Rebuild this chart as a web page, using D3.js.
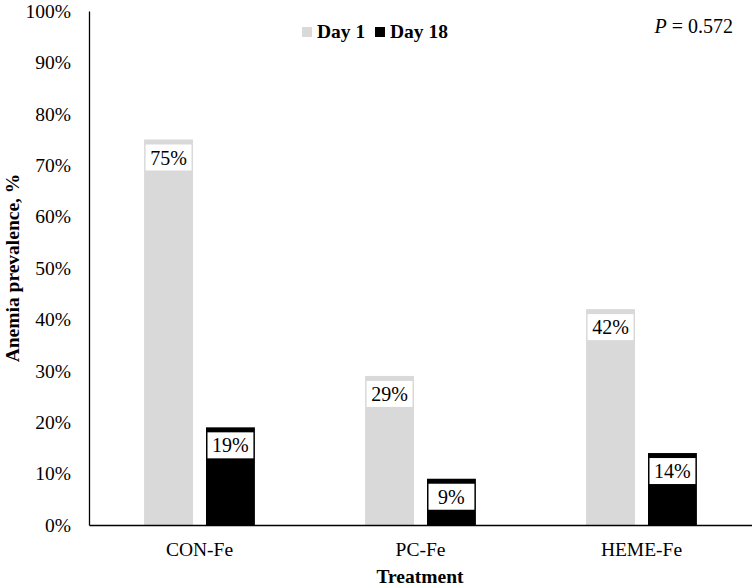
<!DOCTYPE html>
<html><head><meta charset="utf-8">
<script src="https://cdn.jsdelivr.net/npm/d3@7"></script>
<style>body{margin:0;background:#fff}svg{display:block}text{font-family:"Liberation Serif","Times New Roman",serif;fill:#000}</style>
</head><body><svg id="c" width="752" height="586"></svg>
<script>
const categories = ["CON-Fe", "PC-Fe", "HEME-Fe"];
const seriesNames = ["Day 1", "Day 18"];
const day1 = [75, 29, 42];
const day18 = [19, 9, 14];
const yTicks = [0,10,20,30,40,50,60,70,80,90,100];
const colors = ["#d9d9d9", "#000000"];

const svg = d3.select("#c");
const m = {l: 89, r: 752, t: 11, b: 525};
const x = d3.scaleBand().domain(categories).range([m.l, 752]);
const x1 = d3.scaleBand().domain(seriesNames).range([0, x.bandwidth()]).paddingInner(0.21).paddingOuter(0.89);
const y = d3.scaleLinear().domain([0, 100]).range([m.b, m.t]);

const data = categories.map((c, i) => ({c, vals: [day1[i], day18[i]]}));

// bars
const g = svg.append("g");
data.forEach(d => {
  d.vals.forEach((v, j) => {
    const bx = x(d.c) + x1(seriesNames[j]);
    const bw = x1.bandwidth();
    g.append("rect").attr("x", bx).attr("y", y(v)).attr("width", bw).attr("height", y(0) - y(v)).attr("fill", colors[j]);
    const top = y(v);
    g.append("rect").attr("x", bx + 1.5).attr("y", top + 5).attr("width", bw - 3).attr("height", 26).attr("fill", "#fff");
    g.append("text").attr("x", bx + bw / 2).attr("y", top + 18).attr("dy", "0.35em")
      .attr("text-anchor", "middle").style("font-size", "20px").text(v + "%");
  });
});

// y axis
const ya = svg.append("g").attr("transform", `translate(${m.l},0)`)
  .call(d3.axisLeft(y).tickValues(yTicks).tickSize(0).tickPadding(18).tickFormat(d => d + "%"));
ya.select(".domain").attr("stroke", "#000").attr("stroke-width", 1.3);
ya.selectAll("text").style("font-size", "19.5px").style("font-family", '"Liberation Serif",serif');

// x axis
const xa = svg.append("g").attr("transform", `translate(0,${m.b})`)
  .call(d3.axisBottom(x).tickSize(0).tickPadding(17));
xa.select(".domain").attr("stroke", "#000").attr("stroke-width", 1.3);
xa.selectAll("text").style("font-size", "19.5px").style("font-family", '"Liberation Serif",serif');

// axis titles
svg.append("text").attr("x", 420).attr("y", 583).attr("text-anchor", "middle")
  .style("font-size", "19.5px").style("font-weight", "bold").text("Treatment");
svg.append("text").attr("transform", "translate(19,268) rotate(-90)").attr("text-anchor", "middle")
  .style("font-size", "19.5px").style("font-weight", "bold").text("Anemia prevalence, %");

// legend
const leg = svg.append("g");
const legX = [302, 375];
seriesNames.forEach((s, j) => {
  leg.append("rect").attr("x", legX[j]).attr("y", 27).attr("width", 10).attr("height", 10).attr("fill", colors[j]);
  leg.append("text").attr("x", legX[j] + 15).attr("y", 38).style("font-size", "19.5px").style("font-weight", "bold").text(s);
});

// P value
const p = svg.append("text").attr("x", 733).attr("y", 33).attr("text-anchor", "end").style("font-size", "20px");
p.append("tspan").style("font-style", "italic").text("P");
p.append("tspan").text(" = 0.572");
</script></body></html>
